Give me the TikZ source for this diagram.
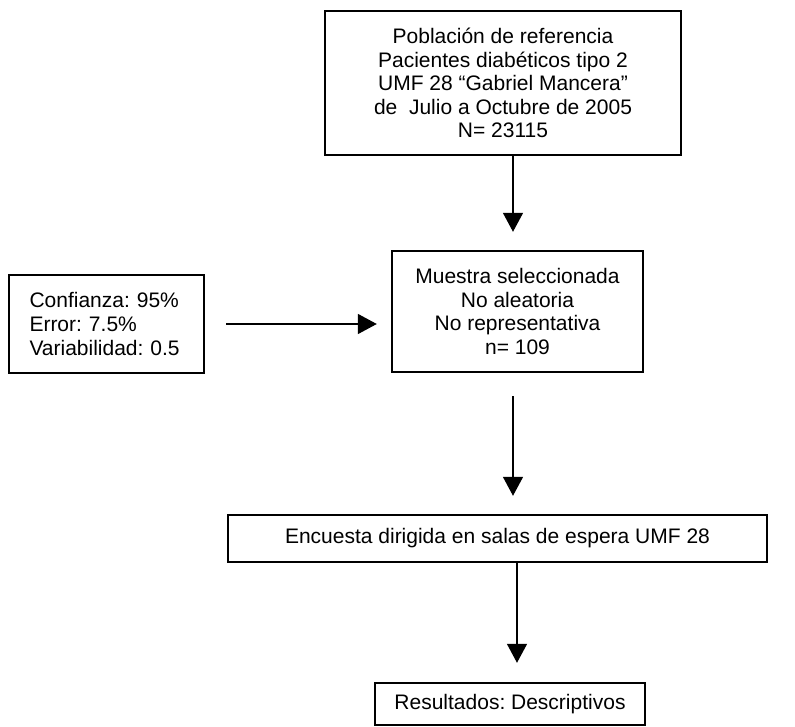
\documentclass[tikz,border=0pt]{standalone}
\usepackage{fontspec}
\setmainfont{Liberation Sans}
\usetikzlibrary{arrows.meta}
\frenchspacing
\begin{document}
\begin{tikzpicture}[x=1pt,y=-1pt,
  box/.style={draw, line width=2.4pt, inner sep=0pt, align=center,
    font=\fontsize{21}{23.6}\selectfont},
  arr/.style={line width=1.6pt, -{Triangle[length=19pt,width=20pt]}}]
\useasboundingbox (0,0) rectangle (795,727);
\node[box, minimum width=356pt, minimum height=144pt] (pop) at (503,83)
  {Población de referencia\\Pacientes diabéticos tipo 2\\UMF 28 “Gabriel Mancera”\\de\ \ Julio a Octubre de 2005\\N= 23115};
\node[box, minimum width=251pt, minimum height=121pt] (mue) at (517.5,311.5)
  {Muestra seleccionada\\No aleatoria\\No representativa\\n= 109};
\node[box, align=left, text width=154pt, inner xsep=20.5pt, minimum height=98pt] (conf) at (106.5,324)
  {Confianza: 95\%\\Error: 7.5\%\\Variabilidad: 0.5};
\node[box, minimum width=539pt, minimum height=47pt] (enc) at (497.5,538.5)
  {Encuesta dirigida en salas de espera UMF 28};
\node[box, minimum width=270pt, minimum height=42pt] (res) at (510,704)
  {Resultados: Descriptivos};
\coordinate (h1) at (conf.east -| mue.west);
\draw[arr] ([xshift=10pt]pop.south) -- ([xshift=-4.5pt,yshift=18pt]mue.north);
\draw[arr] ([xshift=21pt]conf.east) -- ([xshift=-14pt]h1);
\draw[arr] ([xshift=-4.5pt,yshift=-23pt]mue.south) -- ([xshift=15.5pt,yshift=18pt]enc.north);
\draw[arr] ([xshift=19.5pt]enc.south) -- ([xshift=7pt,yshift=19pt]res.north);
\end{tikzpicture}
\end{document}
